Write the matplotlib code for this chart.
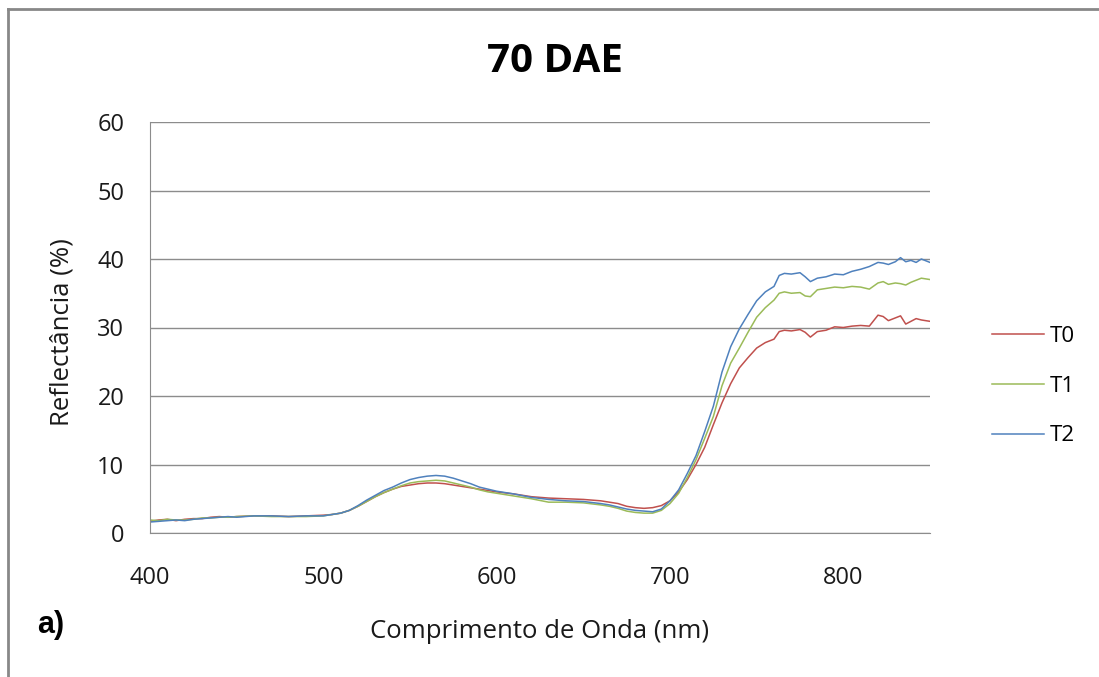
import matplotlib
matplotlib.use("Agg")
import matplotlib.pyplot as plt
from matplotlib.lines import Line2D

# wavelength (nm) and reflectance (%)
wavelength = [400, 405, 410, 415, 420, 425, 430, 435, 440, 445, 450, 460, 470, 480, 490, 500,
              505, 510, 515, 520, 525, 530, 535, 540, 545, 550, 555, 560, 565, 570, 575, 580,
              585, 590, 595, 600, 610, 620, 630, 640, 650, 660, 665, 670, 675, 680, 685, 690,
              695, 700, 705, 710, 715, 720, 725, 730, 735, 740, 745, 750, 755, 760, 763, 766,
              770, 775, 778, 781, 785, 790, 795, 800, 805, 810, 815, 820, 823, 826, 830, 833,
              836, 839, 842, 845, 850]

t0 = [1.7, 1.9, 2.0, 1.8, 2.0, 2.1, 2.1, 2.3, 2.4, 2.3, 2.4, 2.5, 2.5, 2.4, 2.5, 2.6,
      2.7, 2.9, 3.3, 3.9, 4.6, 5.3, 5.9, 6.4, 6.8, 7.0, 7.2, 7.3, 7.3, 7.2, 7.0, 6.8,
      6.6, 6.4, 6.2, 6.0, 5.7, 5.3, 5.1, 5.0, 4.9, 4.7, 4.5, 4.3, 3.9, 3.7, 3.6, 3.7,
      4.0, 4.7, 6.0, 7.8, 10.0, 12.5, 15.8, 19.0, 21.8, 24.1, 25.6, 27.0, 27.8, 28.3, 29.4, 29.6,
      29.5, 29.7, 29.3, 28.6, 29.4, 29.6, 30.1, 30.0, 30.2, 30.3, 30.2, 31.8, 31.6, 31.0, 31.4, 31.7,
      30.5, 30.9, 31.3, 31.1, 30.9]

t1 = [1.9, 1.8, 2.0, 1.9, 1.9, 2.0, 2.2, 2.2, 2.3, 2.3, 2.4, 2.5, 2.4, 2.4, 2.4, 2.5,
      2.7, 2.9, 3.3, 3.9, 4.6, 5.3, 5.9, 6.4, 6.9, 7.3, 7.5, 7.6, 7.7, 7.6, 7.3, 7.0,
      6.7, 6.3, 6.0, 5.8, 5.4, 5.0, 4.5, 4.5, 4.4, 4.1, 3.9, 3.6, 3.2, 3.0, 2.9, 2.9,
      3.3, 4.3, 5.8, 8.1, 10.7, 13.8, 17.0, 21.5, 24.8, 27.0, 29.3, 31.5, 32.9, 34.0, 35.0, 35.2,
      35.0, 35.1, 34.6, 34.5, 35.5, 35.7, 35.9, 35.8, 36.0, 35.9, 35.6, 36.5, 36.7, 36.3, 36.5, 36.4,
      36.2, 36.6, 36.9, 37.2, 37.0]

t2 = [1.6, 1.7, 1.8, 1.9, 1.8, 2.0, 2.1, 2.2, 2.3, 2.4, 2.3, 2.5, 2.5, 2.4, 2.5, 2.5,
      2.7, 2.9, 3.3, 4.0, 4.8, 5.5, 6.2, 6.7, 7.3, 7.8, 8.1, 8.3, 8.4, 8.3, 8.0, 7.6,
      7.2, 6.7, 6.4, 6.1, 5.7, 5.2, 4.9, 4.7, 4.6, 4.3, 4.1, 3.8, 3.5, 3.3, 3.2, 3.1,
      3.5, 4.7, 6.3, 8.7, 11.3, 14.8, 18.5, 23.5, 27.2, 29.8, 31.9, 33.9, 35.2, 36.0, 37.6, 37.9,
      37.8, 38.0, 37.4, 36.7, 37.2, 37.4, 37.8, 37.7, 38.2, 38.5, 38.9, 39.5, 39.4, 39.2, 39.6, 40.2,
      39.6, 39.8, 39.5, 40.0, 39.5]

series = [("T0", t0, "#C0504D"), ("T1", t1, "#9BBB59"), ("T2", t2, "#4F81BD")]

plt.rcParams["font.family"] = ["Open Sans", "DejaVu Sans"]

W, H = 1099, 677
fig = plt.figure(figsize=(W / 100, H / 100), dpi=100)
ax = fig.add_axes([150 / W, 1 - 533 / H, 780 / W, 411 / H])

for name, vals, col in series:
    ax.plot(wavelength, vals, color=col, lw=1.1, label=name)

ax.set_xlim(400, 850)
ax.set_ylim(0, 60)
ax.set_xticks([400, 500, 600, 700, 800])
ax.set_yticks(range(0, 61, 10))
ax.yaxis.grid(True, color="#8C8C8C", lw=1.0)
ax.set_axisbelow(True)
for s in ["top", "right"]:
    ax.spines[s].set_visible(False)
for s in ["left", "bottom"]:
    ax.spines[s].set_color("#8C8C8C")
ax.tick_params(length=0, labelsize=17, colors="#1a1a1a")
ax.tick_params(axis="x", pad=24)
ax.tick_params(axis="y", pad=18.5)

ax.set_xlabel("Comprimento de Onda (nm)", fontsize=18.5, color="#1a1a1a", va="center")
ax.xaxis.set_label_coords(0.5, (533 - 632) / 411)
ax.set_ylabel("Reflectância (%)", fontsize=18.5, color="#1a1a1a", va="center")
ax.yaxis.set_label_coords((62 - 150) / 780, (533 - 332) / 411)

fig.text(555 / W, 1 - 61 / H, "70 DAE", fontsize=29, fontweight="bold",
         ha="center", va="center")
fig.text(37 / W, 1 - 625 / H, "a)", fontsize=22, fontweight="bold",
         family=["Liberation Sans", "DejaVu Sans"], ha="left", va="center")

handles = [Line2D([], [], color=c, lw=1.1) for _, _, c in series]
fig.legend(handles, [n for n, _, _ in series], loc="center left",
           bbox_to_anchor=(992 / W, 1 - 386 / H), frameon=False, fontsize=16,
           borderpad=0, borderaxespad=0, handlelength=2.35, handletextpad=0.25,
           labelspacing=1.3)

# chart border (only top and left show in the reference)
fig.add_artist(Line2D([8 / W, 8 / W], [0, 1 - 9 / H], color="#888888", lw=2))
fig.add_artist(Line2D([8 / W, 1], [1 - 9 / H, 1 - 9 / H], color="#888888", lw=2))

fig.savefig("out.png", dpi=100)
